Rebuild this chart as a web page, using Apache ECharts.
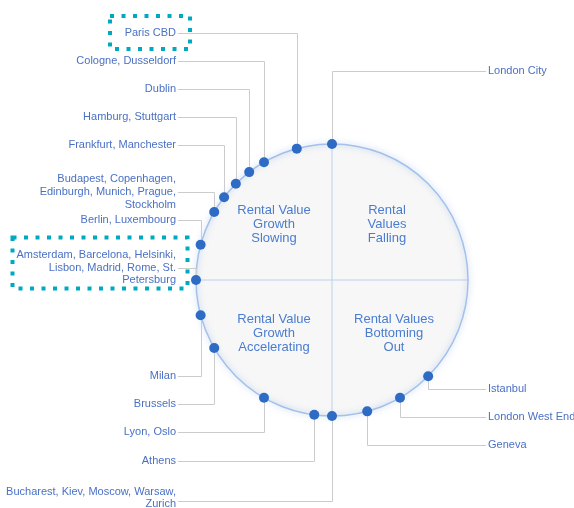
<!DOCTYPE html>
<html><head><meta charset="utf-8">
<script src="https://cdn.jsdelivr.net/npm/echarts@6/dist/echarts.min.js"></script>
<style>html,body{margin:0;padding:0;background:#fff}#c{width:574px;height:508px}</style>
</head><body><div id="c"></div>
<script>
// ---- data ----
const cities = [
  'London City', 'Paris CBD', 'Cologne, Dusseldorf', 'Dublin', 'Hamburg, Stuttgart',
  'Frankfurt, Manchester', 'Budapest, Copenhagen, Edinburgh, Munich, Prague, Stockholm',
  'Berlin, Luxembourg', 'Amsterdam, Barcelona, Helsinki, Lisbon, Madrid, Rome, St. Petersburg',
  'Milan', 'Brussels', 'Lyon, Oslo', 'Athens', 'Bucharest, Kiev, Moscow, Warsaw, Zurich',
  'Geneva', 'London West End', 'Istanbul'
];
// position on the property clock (hours, 0 = 12 o'clock)
const clockHours = [0, 11.5, 11, 10.75, 10.5, 10.25, 10, 9.5, 9, 8.5, 8, 7, 6.25, 6, 5.5, 5, 4.5];
const quadrantNames = [
  'Rental\nValues\nFalling',
  'Rental Values\nBottoming\nOut',
  'Rental Value\nGrowth\nAccelerating',
  'Rental Value\nGrowth\nSlowing'
];

// ---- layout ----
const labelLineY = [71, 33, 61, 89, 117, 145, 192, 220, 267.5, 376, 404, 432, 460.5, 501, 445, 416.5, 388.5];
const labelTextDy = [0, 0, 0, 0, 0, 0, 0, 0, 0, 0, 0, 0, 0, -3, 0, 0, 0];
const quadrantPos = [[387, 224.5], [394, 333.5], [274, 333], [274, 224.5]];
const highlightBoxes = [[110, 16, 80, 33], [12.5, 237.5, 175, 51]];

const TEXT_COLOR = '#4a70c4';
const FONT = '"Liberation Sans", Arial, sans-serif';
const LABEL_FONT = '11px ' + FONT;
const WRAP_WIDTH = 171;

const ctx = document.createElement('canvas').getContext('2d');
ctx.font = LABEL_FONT;
function wrap(text) {
  const words = text.split(' ');
  const lines = [];
  let cur = '';
  words.forEach(w => {
    const test = cur ? cur + ' ' + w : w;
    if (cur && ctx.measureText(test).width > WRAP_WIDTH) { lines.push(cur); cur = w; }
    else cur = test;
  });
  if (cur) lines.push(cur);
  return lines.join('\n');
}

const chart = echarts.init(document.getElementById('c'), null, {renderer: 'canvas'});

const graphics = [];
quadrantNames.forEach((t, i) => {
  graphics.push({
    type: 'text', x: quadrantPos[i][0], y: quadrantPos[i][1], z: 5,
    style: {text: t, align: 'center', verticalAlign: 'middle', lineHeight: 14,
      font: '13px ' + FONT, fill: '#4a7dcf'}
  });
});
highlightBoxes.forEach(b => {
  graphics.push({
    type: 'rect', z: 10, shape: {x: b[0], y: b[1], width: b[2], height: b[3]},
    style: {fill: null, stroke: '#00a9c2', lineWidth: 4, lineDash: [4, 7.5]}
  });
});

const px = v => Math.round(v) + 0.5;

chart.setOption({
  animation: false,
  polar: {center: [332, 280], radius: 136},
  angleAxis: {
    type: 'value', min: 0, max: 12, interval: 3, startAngle: 90, clockwise: true,
    axisLine: {show: true, lineStyle: {color: '#a3c0ea', width: 1.5, shadowBlur: 6, shadowColor: 'rgba(110,155,225,0.6)'}},
    axisTick: {show: false}, axisLabel: {show: false},
    splitLine: {show: true, lineStyle: {color: '#bcd1ee', width: 1}}
  },
  radiusAxis: {
    type: 'value', min: 0, max: 1, interval: 1,
    axisLine: {show: false}, axisTick: {show: false}, axisLabel: {show: false},
    splitLine: {show: false},
    splitArea: {show: true, areaStyle: {color: ['#f7f7f7']}}
  },
  graphic: graphics,
  series: [
    {
      type: 'custom', coordinateSystem: 'polar', z: 2, silent: true,
      data: clockHours.map(h => [1, h]),
      renderItem: function (params, api) {
        const i = params.dataIndex;
        const p = api.coord([api.value(0), api.value(1)]);
        const right = clockHours[i] < 6;
        const y = labelLineY[i];
        const xEnd = right ? 486 : 178;
        const tx = right ? 488 : 176;
        return {
          type: 'group', children: [
            {type: 'polyline', shape: {points: [[px(p[0]), p[1]], [px(p[0]), px(y)], [xEnd, px(y)]]},
              style: {stroke: '#cccccc', lineWidth: 1, fill: null}},
            {type: 'text', style: {text: wrap(cities[i]), x: tx, y: y + labelTextDy[i],
              align: right ? 'left' : 'right', verticalAlign: 'middle', lineHeight: 12.6,
              font: LABEL_FONT, fill: TEXT_COLOR}}
          ]
        };
      }
    },
    {
      type: 'scatter', coordinateSystem: 'polar', z: 4,
      symbolSize: 10,
      itemStyle: {color: '#2d6bc4', opacity: 1},
      data: clockHours.map(h => [1, h])
    }
  ]
});
</script>
</body></html>
